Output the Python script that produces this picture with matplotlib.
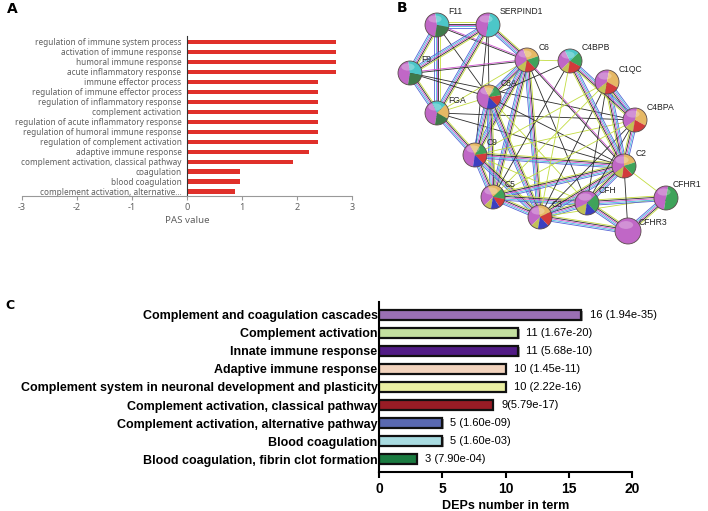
import matplotlib
matplotlib.use("Agg")
import matplotlib.pyplot as plt
import numpy as np
from matplotlib.patches import Wedge, Circle, Ellipse

W, H = 708, 511

# ---- panel A data ----
pas_terms = ["regulation of immune system process", "activation of immune response",
             "humoral immune response", "acute inflammatory response",
             "immune effector process", "regulation of immune effector process",
             "regulation of inflammatory response", "complement activation",
             "regulation of acute inflammatory response", "regulation of humoral immune response",
             "regulation of complement activation", "adaptive immune response",
             "complement activation, classical pathway", "coagulation",
             "blood coagulation", "complement activation, alternative\u2026"]
pas_values = [2.70, 2.70, 2.70, 2.70, 2.38, 2.38, 2.38, 2.38, 2.38, 2.38, 2.38,
              2.22, 1.92, 0.97, 0.97, 0.88]

# ---- panel B data (STRING network) ----
node_pos = {"F11": (437, 25), "SERPIND1": (488, 25), "F9": (410, 73), "C6": (527, 60),
            "C4BPB": (570, 61), "C1QC": (607, 82), "C8A": (489, 97), "FGA": (437, 113),
            "C4BPA": (635, 120), "C9": (475, 155), "C2": (624, 166), "C5": (493, 197),
            "CFH": (587, 203), "CFHR1": (666, 198), "C3": (540, 217), "CFHR3": (628, 231)}
MAG, GRN, DGR, OLV, RED, TAN, CYA, BLU = ("#c067c6", "#3fa35a", "#3f7a4a", "#c2c255",
                                          "#d23b3b", "#e6b865", "#4cc6c8", "#3b3fc0")
node_colors = {"F11": [(MAG, .45), (CYA, .3), (DGR, .25)],
               "SERPIND1": [(MAG, .5), (CYA, .5)],
               "F9": [(MAG, .45), (CYA, .3), (DGR, .25)],
               "FGA": [(MAG, .4), (CYA, .2), (TAN, .2), (DGR, .2)],
               "C6": [(OLV, .12), (MAG, .3), (TAN, .25), (GRN, .18), (RED, .15)],
               "C4BPB": [(OLV, .1), (MAG, .3), (CYA, .2), (GRN, .2), (RED, .2)],
               "C1QC": [(OLV, .12), (MAG, .38), (TAN, .3), (RED, .2)],
               "C8A": [(MAG, .4), (TAN, .15), (GRN, .15), (RED, .15), (BLU, .15)],
               "C4BPA": [(OLV, .12), (MAG, .38), (TAN, .3), (RED, .2)],
               "C9": [(MAG, .4), (TAN, .15), (GRN, .15), (RED, .15), (BLU, .15)],
               "C2": [(OLV, .12), (MAG, .35), (TAN, .2), (GRN, .18), (RED, .15)],
               "C5": [(OLV, .1), (MAG, .3), (TAN, .2), (GRN, .15), (RED, .13), (BLU, .12)],
               "CFH": [(OLV, .15), (MAG, .45), (GRN, .25), (BLU, .15)],
               "CFHR1": [(MAG, .5), (GRN, .5)],
               "C3": [(OLV, .1), (MAG, .35), (TAN, .2), (RED, .2), (BLU, .15)],
               "CFHR3": [(MAG, 1.0)]}
# edge evidence: m = many channels, k = coexpression, y = textmining, p = experiment+coexp
edges = [("F11", "SERPIND1", "m"), ("F11", "F9", "m"), ("F11", "FGA", "m"), ("F11", "C8A", "k"),
         ("F11", "C6", "p"), ("SERPIND1", "F9", "m"), ("SERPIND1", "FGA", "m"),
         ("SERPIND1", "C6", "m"), ("SERPIND1", "C8A", "k"), ("SERPIND1", "C9", "k"),
         ("F9", "FGA", "m"), ("F9", "C6", "p"), ("F9", "C8A", "k"), ("F9", "C4BPA", "k"),
         ("FGA", "C9", "m"), ("FGA", "C6", "y"), ("FGA", "C8A", "y"), ("FGA", "C4BPA", "k"),
         ("FGA", "C2", "k"), ("C6", "C8A", "m"), ("C6", "C9", "m"), ("C6", "C5", "m"),
         ("C6", "C3", "m"), ("C6", "C2", "p"), ("C6", "CFH", "k"), ("C6", "C4BPB", "y"),
         ("C8A", "C9", "m"), ("C8A", "C5", "m"), ("C8A", "C3", "m"), ("C8A", "C4BPB", "k"),
         ("C8A", "C2", "k"), ("C8A", "CFH", "y"), ("C9", "C5", "m"), ("C9", "C3", "m"),
         ("C9", "C2", "m"), ("C9", "C4BPA", "y"), ("C9", "CFH", "y"), ("C5", "C3", "m"),
         ("C5", "C2", "m"), ("C5", "CFH", "m"), ("C3", "CFH", "m"), ("C3", "C2", "m"),
         ("C3", "CFHR1", "y"), ("C3", "CFHR3", "m"), ("C3", "C1QC", "k"), ("C3", "C4BPA", "k"),
         ("C3", "C4BPB", "y"), ("CFH", "CFHR1", "m"), ("CFH", "CFHR3", "m"), ("CFH", "C2", "m"),
         ("CFH", "C4BPA", "k"), ("CFH", "C1QC", "k"), ("CFHR1", "CFHR3", "m"),
         ("C2", "C1QC", "m"), ("C2", "C4BPA", "m"), ("C2", "C4BPB", "m"), ("C2", "CFHR3", "k"),
         ("C2", "CFHR1", "y"), ("C4BPA", "C1QC", "m"), ("C4BPA", "C4BPB", "m"),
         ("C4BPA", "C5", "y"), ("C1QC", "C5", "y"), ("C4BPB", "C5", "k"), ("C1QC", "C9", "y")]
edge_styles = {"m": ["#c6dc3c", "#2a2a2a", "#cf52cf", "#45bfe0", "#5563d6"],
               "k": ["#2a2a2a"], "y": ["#c2dc40"], "p": ["#cf52cf", "#2a2a2a"]}

# ---- panel C data ----
kegg_terms = ["Complement and coagulation cascades", "Complement activation",
              "Innate immune response", "Adaptive immune response",
              "Complement system in neuronal development and plasticity",
              "Complement activation, classical pathway",
              "Complement activation, alternative pathway", "Blood coagulation",
              "Blood coagulation, fibrin clot formation"]
dep_counts = [16, 11, 11, 10, 10, 9, 5, 5, 3]
bar_labels = ["16 (1.94e-35)", "11 (1.67e-20)", "11 (5.68e-10)", "10 (1.45e-11)",
              "10 (2.22e-16)", "9(5.79e-17)", "5 (1.60e-09)", "5 (1.60e-03)", "3 (7.90e-04)"]
bar_colors = ["#9a70b4", "#c4e0a0", "#521c86", "#f2d3bd", "#e9eea2", "#981c25",
              "#5a69b1", "#a9dce1", "#1b7b41"]


def rect(x0, y0, x1, y1):
    return [x0 / W, 1 - y1 / H, (x1 - x0) / W, (y1 - y0) / H]


fig = plt.figure(figsize=(W / 100, H / 100), dpi=100)
fig.patch.set_facecolor("white")

# ======== panel A ========
axA = fig.add_axes(rect(22, 36, 352, 196))
gray = "#606060"
ya = np.arange(len(pas_terms))
# spine position first, it resets the tick objects
axA.spines["left"].set_position(("data", 0))
axA.barh(ya, pas_values, height=0.42, color="#e0302a")
axA.set_xlim(-3, 3)
axA.set_ylim(len(pas_terms) - 0.55, -0.6)
axA.set_yticks(ya)
axA.set_yticklabels(pas_terms, fontsize=5.9, color=gray, family="Noto Sans")
axA.set_xticks([-3, -2, -1, 0, 1, 2, 3])
axA.set_xticklabels(["-3", "-2", "-1", "0", "1", "2", "3"], fontsize=6.5, color=gray,
                    family="Noto Sans")
axA.spines["left"].set_color("#333333")
axA.spines["left"].set_linewidth(0.8)
axA.spines["bottom"].set_color("#999999")
axA.spines["bottom"].set_linewidth(0.8)
axA.spines["top"].set_visible(False)
axA.spines["right"].set_visible(False)
axA.tick_params(axis="y", length=0, pad=4)
axA.tick_params(axis="x", direction="out", length=3, color="#999999", pad=2)
axA.set_xlabel("PAS value", fontsize=7, color=gray, family="Noto Sans", labelpad=3)
fig.text(7 / W, 1 - 9 / H, "A", fontsize=10, weight="bold", va="center")

# ======== panel B ========
axB = fig.add_axes(rect(360, 0, 708, 255))
axB.set_xlim(360, 708)
axB.set_ylim(255, 0)
axB.axis("off")
for a, b, kind in edges:
    p = np.array(node_pos[a], float)
    q = np.array(node_pos[b], float)
    d = q - p
    n = np.array([-d[1], d[0]]) / np.hypot(*d)
    cols = edge_styles[kind]
    for i, c in enumerate(cols):
        off = (i - (len(cols) - 1) / 2) * 1.3
        axB.plot([p[0] + n[0] * off, q[0] + n[0] * off], [p[1] + n[1] * off, q[1] + n[1] * off],
                 color=c, lw=0.6, zorder=1, solid_capstyle="butt")
for name, (x, y) in node_pos.items():
    r = 13 if name == "CFHR3" else 12
    ang = 100.0
    for col, frac in node_colors[name]:
        axB.add_patch(Wedge((x, y), r, ang, ang + frac * 360, facecolor=col,
                            edgecolor="none", zorder=3))
        ang += frac * 360
    axB.add_patch(Circle((x, y), r, facecolor="none", edgecolor="#5a4a4a", lw=0.6, zorder=4))
    axB.add_patch(Ellipse((x - 2, y - 6), r * 1.1, r * 0.6, facecolor="white", alpha=0.28,
                          edgecolor="none", zorder=4))
    dx, dy = (7, -14) if name == "CFHR1" else ((11, -9) if name == "CFHR3" else (11.5, -13))
    axB.text(x + dx, y + dy, name, fontsize=6.2, color="#222222", va="center", ha="left",
             family="Liberation Sans", zorder=5)
fig.text(397 / W, 1 - 8 / H, "B", fontsize=10, weight="bold", va="center")

# ======== panel C ========
axC = fig.add_axes(rect(379, 302, 632, 472))
yc = np.arange(len(kegg_terms))
axC.barh(yc + 0.07, dep_counts, left=0.12, height=0.55, color="#9a9a9a", zorder=1)
axC.barh(yc, dep_counts, height=0.55, color=bar_colors, edgecolor="#111111", linewidth=1.6,
         zorder=2)
for yi, v, lab in zip(yc, dep_counts, bar_labels):
    axC.text(v + 0.65, yi, lab, va="center", ha="left", fontsize=8, family="Liberation Sans")
axC.set_xlim(0, 20)
axC.set_ylim(len(kegg_terms) - 0.28, -0.72)
axC.set_yticks(yc)
axC.set_yticklabels(kegg_terms, fontsize=9, weight="bold", family="Liberation Sans")
axC.set_xticks([0, 5, 10, 15, 20])
axC.set_xticklabels(["0", "5", "10", "15", "20"], fontsize=10, weight="bold",
                    family="Liberation Sans")
for s in ("top", "right"):
    axC.spines[s].set_visible(False)
for s in ("left", "bottom"):
    axC.spines[s].set_linewidth(1.5)
axC.tick_params(axis="y", length=0, pad=1)
axC.tick_params(axis="x", length=4, width=1.5, pad=3)
axC.set_xlabel("DEPs number in term", fontsize=9, weight="bold", family="Liberation Sans",
               labelpad=3)
fig.text(5 / W, 1 - 305 / H, "C", fontsize=9, weight="bold", va="center")

fig.savefig("out.png", dpi=100, facecolor="white")
